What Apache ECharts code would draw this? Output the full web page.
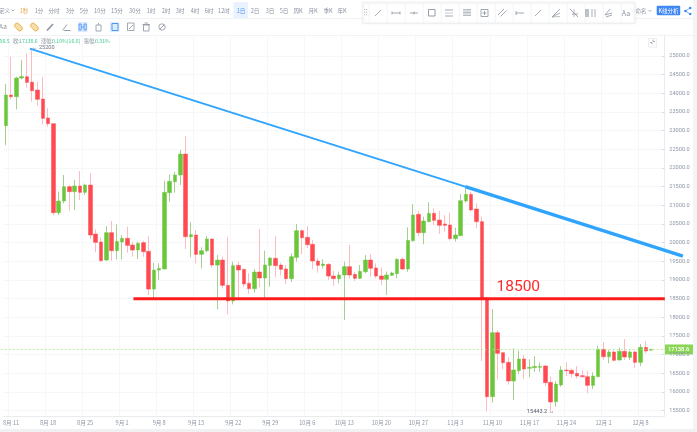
<!DOCTYPE html>
<html>
<head>
<meta charset="utf-8">
<style>html,body{margin:0;padding:0;background:#fff;overflow:hidden}#c{width:697px;height:432px;filter:blur(0.3px)}</style>
<script src="https://cdn.jsdelivr.net/npm/echarts@6/dist/echarts.min.js"></script>
</head>
<body>
<div id="c"></div>
<script>
const categories = [
'8月 10','8月 11','8月 12','8月 13','8月 14','8月 15','8月 16','8月 17','8月 18','8月 19','8月 20','8月 21','8月 22','8月 23','8月 24','8月 25','8月 26','8月 27','8月 28','8月 29','8月 30','8月 31',
'9月 1','9月 2','9月 3','9月 4','9月 5','9月 6','9月 7','9月 8','9月 9','9月 10','9月 11','9月 12','9月 13','9月 14','9月 15','9月 16','9月 17','9月 18','9月 19','9月 20','9月 21','9月 22','9月 23','9月 24','9月 25','9月 26','9月 27','9月 28','9月 29','9月 30',
'10月 1','10月 2','10月 3','10月 4','10月 5','10月 6','10月 7','10月 8','10月 9','10月 10','10月 11','10月 12','10月 13','10月 14','10月 15','10月 16','10月 17','10月 18','10月 19','10月 20','10月 21','10月 22','10月 23','10月 24','10月 25','10月 26','10月 27','10月 28','10月 29','10月 30','10月 31',
'11月 1','11月 2','11月 3','11月 4','11月 5','11月 6','11月 7','11月 8','11月 9','11月 10','11月 11','11月 12','11月 13','11月 14','11月 15','11月 16','11月 17','11月 18','11月 19','11月 20','11月 21','11月 22','11月 23','11月 24','11月 25','11月 26','11月 27','11月 28','11月 29','11月 30',
'12月 1','12月 2','12月 3','12月 4','12月 5','12月 6','12月 7','12月 8','12月 9','12月 10','',''];
const xTickLabels = ['8月 11','8月 18','8月 25','9月 1','9月 8','9月 15','9月 22','9月 29','10月 6','10月 13','10月 20','10月 27','11月 3','11月 10','11月 17','11月 24','12月 1','12月 8'];
const yTicks = [15500,16000,16500,17000,17500,18000,18500,19000,19500,20000,20500,21000,21500,22000,22500,23000,23500,24000,24500,25000];
const opens = [23133,23955,23910,24410,24446,24300,24089,23848,23339,23187,20803,21115,21499,21365,21517,21347,21544,20231,20017,19534,20267,19784,20017,20115,19936,19802,20000,19767,18757,19266,19293,21338,21633,21812,22374,20160,20204,19686,19784,20097,19400,19534,18856,18436,19392,19285,18910,18767,19213,19053,19392,19580,19401,19294,19035,19606,20321,20142,19955,19508,19383,19419,19106,19035,19133,19356,19151,19044,19222,19535,19321,19106,19017,19124,19169,19553,19294,20053,20758,20267,20562,20785,20606,20500,20473,20107,20187,21116,21294,20901,20562,18520,15873,17588,17052,16793,16293,16570,16883,16633,16651,16660,16695,16258,15740,16186,16588,16579,16499,16436,16409,16177,16409,17142,16945,17070,16856,17088,16927,17070,16793,17195,17122];
const closes = [23955,23910,24410,24450,24294,24071,23839,23330,23187,20803,21115,21499,21365,21517,21347,21544,20204,20008,19517,20267,19784,20034,20115,19927,19802,19981,19758,18757,19266,19311,21347,21642,21812,22374,20160,20213,19686,19784,20097,19400,19534,18856,18436,19383,19267,18892,18767,19213,19053,19401,19589,19383,19285,19035,19624,20321,20133,19946,19508,19392,19428,19106,19035,19133,19356,19133,19044,19231,19535,19312,19106,19017,19133,19187,19553,19294,20062,20740,20267,20580,20785,20598,20464,20464,20107,20205,21124,21294,20874,20562,18520,15873,17588,17034,16784,16293,16588,16883,16615,16660,16686,16686,16249,15731,16213,16588,16570,16490,16427,16409,16177,16427,17142,16945,17070,16847,17088,16936,17070,16793,17195,17097,17138.6];
const lows = [22616,23839,23571,24375,24152,23776,23660,23169,23107,20740,20740,21053,20856,20874,21142,21280,20097,19740,19490,19517,19517,19552,19552,19731,19624,19561,19624,18597,18500,19000,19293,21097,21338,21544,19829,19606,19445,19311,19740,19338,18213,18775,18079,18347,18480,18803,18624,18660,18803,18508,18820,19071,19124,18892,18946,19490,19696,19848,19294,19196,19303,19000,18847,18910,17927,19035,18972,19026,19178,19089,19044,18865,18597,19106,19044,19267,19222,20026,20178,19955,20544,20473,20232,20294,20053,20026,20178,21071,20830,20383,16829,15480,15713,16338,16606,16195,15784,16481,16347,16392,16534,16534,16159,15443.2,15606,16142,16427,16382,16356,16391,15963,16079,16409,16856,16767,16829,16838,16856,16856,16650,16695,17035,17097];
const highs = [24250,24982,24446,24893,25071,25200,24312,24446,23598,23187,21365,21812,21544,21678,21919,21580,21866,20356,20142,20445,20579,20490,20204,20427,20026,20026,20052,20177,19463,19445,21660,21830,21901,22481,22856,20540,20338,19874,20177,20115,19668,19624,20142,19490,19490,19285,19178,19294,20365,19785,19606,20178,19464,19401,19713,20499,20356,20446,20071,19580,19553,19446,19249,19222,19490,19946,19222,19401,19669,19696,19446,19338,19222,19222,19580,19606,20410,21035,20857,20696,21080,20919,20857,20740,20803,20401,21303,21455,21365,21053,20700,18550,18222,17660,17052,16927,17168,17106,16990,16874,16963,16784,16722,16410,16293,16695,16793,16632,16695,16588,16570,16525,17240,17338,17124,17106,17186,17418,17106,17106,17284,17365,17160];
const lastPrice = 17138.6;
const highMark = 25200;
const lowMark = 15443.2;
const resistance = [[5,25200],[87,21500]];
const resistanceThick = [[87,21500],[128,19642]];
const supportLevel = 18500;
const support = [[24.5,supportLevel],[124.6,supportLevel]];
const priceLine = [[-0.5,lastPrice],[124.6,lastPrice]];
const periodTabs = [['1秒',24],['1分',39],['分时',54],['3分',70],['5分',84],['10分',100],['15分',117],['30分',135],['1时',151],['2时',166],['3时',180],['4时',195],['6时',209],['12时',224],['1日',241],['2日',255],['3日',270],['5日',284],['周K',298],['月K',313],['季K',328],['年K',342]];

const UP='#6cc63c', DOWN='#ff4a52', UPW='#a6cf92', DOWNW='#ffbcc0';
const FONT='"Noto Sans CJK SC","Noto Sans",sans-serif';
const GRAY='#8a92a0', AXIS='#8e96a6', ICON='#8b93a0', BLUE='#3d8bf2';
const wickData = opens.map((o,i)=>[o,closes[i],lows[i],highs[i]]);
const bodyData = opens.map((o,i)=>[o,closes[i],Math.min(o,closes[i]),Math.max(o,closes[i])]);
const Y0=35, YH=381.7, YMIN=15337, YMAX=25563, XL=0.7, XW=663.6, BAND=XW/categories.length;

// ---- interface chrome ----
const g=[];
const T=(text,x,y,fill,size,align)=>g.push({type:'text',silent:true,style:{text,x,y,fill:fill||GRAY,font:(size||5.6)+'px '+FONT,textAlign:align||'center',textVerticalAlign:'middle'}});
const R=(x,y,w,h,fill,stroke,lw)=>g.push({type:'rect',silent:true,shape:{x,y,width:w,height:h},style:{fill:fill||'none',stroke:stroke||'none',lineWidth:lw||1}});
const L=(x1,y1,x2,y2,stroke,lw)=>g.push({type:'line',silent:true,shape:{x1,y1,x2,y2},style:{stroke:stroke||ICON,lineWidth:lw||0.8}});
const C=(cx,cy,r,fill,stroke)=>g.push({type:'circle',silent:true,shape:{cx,cy,r},style:{fill:fill||'none',stroke:stroke||'none',lineWidth:0.8}});

R(693,0,4,432,'#f3f4f6');
R(0,429,697,3,'#f0f1f3');
L(0,18.5,693,18.5,'#f1f2f5',1);
L(0,35.5,693,35.5,'#f1f2f5',1);
// period row
T('定义',-1,10.5,GRAY,5.6,'left');
L(11.5,9.5,13,11,GRAY,.7);L(13,11,14.5,9.5,GRAY,.7);
R(233.5,2,14.5,16,'#e9f2fe');
periodTabs.forEach(([t,x])=>T(t,x,10.5,t==='1秒'?'#e9a84c':t==='1日'?'#4d94f5':GRAY));
// drawing tools row
T('Aa',3,27,ICON,6.5);
[18.5,34.5].forEach(x=>{
  g.push({type:'rect',silent:true,rotation:-Math.PI/4,originX:x,originY:27,shape:{x:x-4.5,y:24.5,width:9,height:5,r:2.5},style:{fill:'#f6dca8',stroke:'#e9b04f',lineWidth:.9}});
});
L(47,30.5,53,24,ICON,1.6);
L(62.5,30.5,67,24.5,ICON,.9);L(64,30.5,70.5,30.5,ICON,.9);
R(78,22,9.5,10,'#dcebfd');
R(79,24,2.2,6,'none',BLUE,.8);R(84,24,2.2,6,'none',BLUE,.8);L(81.5,27,84,27,BLUE,.8);
R(96,25,5,6,'none',ICON,.8);L(98.5,23,98.5,25,ICON,.8);
R(110,22,9.5,10,'#dcebfd');R(112,23.5,6,7,'none',BLUE,.9);
R(127.5,23,6.5,7.5,'none',ICON,.8);L(129,29,133,25,ICON,.8);
R(143.5,25,5.5,6,'none',ICON,.8);L(142.5,24.5,150,24.5,ICON,.8);L(144.5,23,148,23,ICON,.8);
C(162,27,3.2,'none',ICON);L(160,29,164,25,ICON,.9);
// floating tools
g.push({type:'rect',silent:true,shape:{x:362.7,y:2.7,width:272.3,height:20.6},style:{fill:'#fff',stroke:'#eceef1',lineWidth:1,shadowBlur:3,shadowColor:'rgba(0,0,0,.08)'}});
for(let r=0;r<3;r++){C(364.8,9.5+r*2.6,.55,'#9aa1ad');C(366.7,9.5+r*2.6,.55,'#9aa1ad');}
for(let k=0;k<15;k++){L(369.2+18*k,3,369.2+18*k,23,'#f0f1f4',.8);}
const cy=13;
L(375,16,381,10);
L(392,cy,400,cy);L(392,cy-1.5,392,cy+1.5);L(400,cy-1.5,400,cy+1.5);
L(410,cy,418,cy);L(414,cy-1.5,414,cy+1.5);
R(428.5,9.5,6.5,6.5,'none',ICON,.9);
L(445,10,453,10);L(445,13,453,13,'#b7bcc5');L(445,16,453,16);
[9.5,11,12.5,14,15.5].forEach(y=>L(463,y,471,y,'#a8aeb8'));
R(481,9.5,7,7,'none',ICON,.8);L(482.5,13,486.5,13);L(484.5,11,484.5,15);
L(498,15,504,9);L(500.5,16.5,506.5,10.5);
L(516,cy,524,cy);L(516,cy-2,516,cy+2);
L(535,16,541,10);
L(552,17,560,9);L(552,17,560,13);L(552,17,560,16.5,'#a8aeb8');
L(570,9,578,17);L(572,14,578,14);L(574,9,574,17,'#a8aeb8');
[586,588,592,595].forEach(x=>L(x,9,x,17,'#a1a7b2',x<589?1.4:.9));
L(605,15,610,9);L(605,15,612,13);L(606,17,612,15);
T('Aa',626,13,ICON,7);
// right controls
T('命名',641,11,GRAY,5.6);
L(648.5,10,650,11.5,GRAY,.7);L(650,11.5,651.5,10,GRAY,.7);
g.push({type:'rect',silent:true,shape:{x:656.7,y:5.7,width:23.5,height:9.6,r:1},style:{fill:'#3f87f5'}});
T('K线分析',668.5,10.6,'#fff',5.5);
C(685.4,11,1.3,BLUE);C(690.2,8,1.3,BLUE);C(690.2,14,1.3,BLUE);
L(685.4,11,690.2,8,BLUE,.7);L(685.4,11,690.2,14,BLUE,.7);
// OHLC readout
const GREEN='#43cb92';
const RS=5.2;
T('06.5',-0.5,41,GREEN,RS,'left');
T('收:',13,41,GRAY,RS,'left');T('17138.6',19,41,GREEN,RS,'left');
T('涨幅:',41,41,GRAY,RS,'left');T('0.10%(16.6)',52,41,GREEN,RS,'left');
T('振幅:',84,41,GRAY,RS,'left');T('0.31%',95,41,GREEN,RS,'left');
// fit button
R(648.5,38.5,8,8.5,'#fff','#e6e8ec',.8);L(650,42.5,652,42.5,ICON,.7);L(652,42.5,652,44.5,ICON,.7);L(653,41.5,655,41.5,ICON,.7);L(653,39.5,653,41.5,ICON,.7);

// ---- chart ----
const hiddenAxis={show:false,axisLine:{show:false},axisTick:{show:false},axisLabel:{show:false},splitLine:{show:false}};
const lineSeries=(data,color,width,z,extra)=>Object.assign({type:'line',xAxisIndex:1,yAxisIndex:1,data,symbol:'none',silent:true,clip:false,animation:false,z,lineStyle:{color,width,cap:'butt'}},extra||{});
const noteSeries=(x,y,text,pos,style)=>({type:'scatter',xAxisIndex:1,yAxisIndex:1,clip:false,silent:true,animation:false,z:12,symbolSize:0,itemStyle:{opacity:1},data:[[x,y]],
  label:Object.assign({show:true,position:pos,formatter:text,fontFamily:FONT,opacity:1},style)});
const isTick=(i,name)=>xTickLabels.includes(name);

const option={
  animation:false,
  backgroundColor:'#fff',
  grid:[
    {left:XL,top:Y0,width:XW,height:YH,borderWidth:0},
    {left:XL,top:Y0,width:696.3,height:YH,borderWidth:0}
  ],
  xAxis:[
    {type:'category',gridIndex:0,data:categories,boundaryGap:true,
     axisLine:{lineStyle:{color:'#e9ebef',width:1}},
     axisTick:{show:false},
     axisLabel:{interval:isTick,color:AXIS,fontSize:5.6,margin:3,fontFamily:FONT},
     splitLine:{show:true,interval:isTick,lineStyle:{color:'#f6f7f9',width:1}}},
    Object.assign({type:'value',gridIndex:1,min:-0.5,max:-0.5+696.3/BAND},hiddenAxis)
  ],
  yAxis:[
    {type:'value',gridIndex:0,position:'right',min:YMIN,max:YMAX,scale:true,
     axisLine:{show:true,lineStyle:{color:'#e9ebef',width:1}},
     axisTick:{show:true,length:2,inside:true,lineStyle:{color:'#d3d7de'},customValues:yTicks},
     axisLabel:{customValues:yTicks,formatter:v=>v.toFixed(1),color:AXIS,fontSize:5.6,margin:5,fontFamily:'Roboto,"Noto Sans",sans-serif'},
     splitLine:{show:true,lineStyle:{color:'#f6f7f9',width:1}}},
    Object.assign({type:'value',gridIndex:1,min:YMIN,max:YMAX,scale:true},hiddenAxis)
  ],
  series:[
    {type:'candlestick',name:'wick',xAxisIndex:0,yAxisIndex:0,data:wickData,barWidth:1,z:2,silent:true,
     itemStyle:{color:UPW,color0:DOWNW,borderColor:UPW,borderColor0:DOWNW,borderWidth:1}},
    {type:'candlestick',name:'body',xAxisIndex:0,yAxisIndex:0,data:bodyData,barWidth:4,z:3,silent:true,
     itemStyle:{color:UP,color0:DOWN,borderColor:UP,borderColor0:DOWN,borderWidth:0.5}},
    lineSeries(priceLine,'#a9e58a',0.8,4,{lineStyle:{color:'#a9e58a',width:0.8,type:[2,2]}}),
    lineSeries(resistance,'#2fa4ff',1.8,6),
    lineSeries(resistanceThick,'#2fa4ff',3.4,6),
    lineSeries(support,'#ff1c1c',3,7),
    noteSeries(97,18810,String(supportLevel),'inside',{color:'#ff2a2a',fontSize:15.5,fontFamily:'Roboto,sans-serif'}),
    noteSeries(5,highMark,'← '+highMark,'right',{color:'#6e7685',fontSize:5.6,fontFamily:'Roboto,sans-serif',offset:[-3,-1]}),
    noteSeries(103,lowMark,lowMark+' →','left',{color:'#4f5664',fontSize:5.6,fontFamily:'Roboto,sans-serif',offset:[9,-1]})
  ]
};
const chart=echarts.init(document.getElementById('c'),null,{renderer:'canvas'});
chart.setOption(option);
// last-price tag sits on the y axis at the scale position of lastPrice
const tagY=chart.convertToPixel({yAxisIndex:1},lastPrice);
R(664.3,tagY-5,28.7,10,'#8bd655');
g.push({type:'text',silent:true,style:{text:lastPrice.toFixed(1),x:678.6,y:tagY+0.2,fill:'#ffffff',font:'500 5.8px Roboto,sans-serif',textAlign:'center',textVerticalAlign:'middle'}});
chart.setOption({graphic:g});
</script>
</body>
</html>
